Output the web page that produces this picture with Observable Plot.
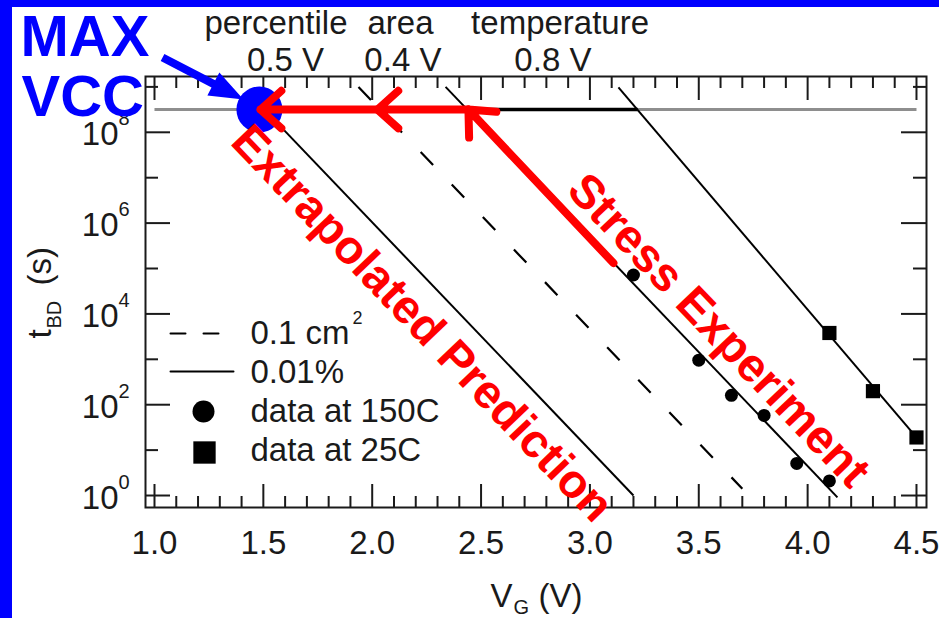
<!DOCTYPE html>
<html><head><meta charset="utf-8">
<script src="https://cdn.jsdelivr.net/npm/d3@7"></script>
<script src="https://cdn.jsdelivr.net/npm/@observablehq/plot@0.6"></script>
<style>
body{margin:0;background:#fff;}
#wrap{position:relative;width:939px;height:618px;overflow:hidden;background:#fff;}
#wrap svg{position:absolute;left:0;top:0;}
.band{position:absolute;background:#0000ff;}
</style></head><body><div id="wrap"></div>
<script>
// ---------------- data ----------------
// breakdown data at 150C (circles) and 25C (squares)
const vg150 = [3.2, 3.5, 3.65, 3.8, 3.95, 4.1];
const tbd150 = [7.2e4, 955, 161, 58, 5.1, 2.1];
const vg25 = [4.1, 4.3, 4.5];
const tbd25 = [3800, 199, 19];
// straight fit / projection lines (log t vs V)
const fitNames = ["extrapolated 0.01%", "0.1 cm2", "fit 150C", "fit 25C"];
const fitV1 = [1.505, 1.937, 2.337, 3.131];
const fitT1 = [10 ** 8.5, 1e9, 1e9, 10 ** 8.99];
const fitV2 = [3.20, 3.70, 4.137, 4.50];
const fitT2 = [1, 10 ** 0.15, 10 ** -0.04, 19];
const fitDashed = [false, true, false, false];
// 10-year lifetime line
const tenYears = 10 ** 8.5;
const lifeLineV = [1.0, 4.5];
const tempShiftV = [2.442, 3.219];
// red arrows (stress -> temperature/area/percentile shifts)
const arrowV1 = [3.108, 2.442, 2.024];
const arrowT1 = [10 ** 5.12, tenYears, tenYears];
const arrowV2 = [2.442, 2.024, 1.487];
const arrowT2 = [tenYears, tenYears, tenYears];
// MAX VCC marker
const maxVccV = 1.482;
const maxArrowV = [1.037, 1.409];
const maxArrowT = [10 ** 9.648, 10 ** 8.72];
// tick labels
const xTickValues = [1.0, 1.5, 2.0, 2.5, 3.0, 3.5, 4.0, 4.5];
const yLabelExps = [0, 2, 4, 6, 8];
const yMinorExps = [1, 3, 5, 7, 9];
// top annotations
const topWords = ["percentile", "area", "temperature"];
const topWordV = [1.558, 2.130, 2.863];
const topShifts = ["0.5 V", "0.4 V", "0.8 V"];
const topShiftV = [1.602, 2.141, 2.830];
// red labels
const redLabels = ["Extrapolated Prediction", "Stress Experiment"];
const redLabelV = [2.229, 3.591];
const redLabelT = [10 ** 3.79, 10 ** 3.634];
const redLabelLine = [0, 2];
// legend
const legendTexts = ["0.1 cm", "0.01%", "data at 150C", "data at 25C"];

// ---------------- layout ----------------
const W = 939, H = 618;
const mL = 145, mR = 13, mT = 76, mB = 111;
const fw = W - mL - mR, fh = H - mT - mB;
const xDomain = [0.9587, 4.546];
const yDomain = [10 ** -0.264, 10 ** 9.229];
const sx = Plot.scale({x: {domain: xDomain, range: [mL, W - mR]}});
const sy = Plot.scale({y: {type: "log", domain: yDomain, range: [H - mB, mT]}});
const pxAngle = (v1, t1, v2, t2) =>
  Math.atan2(sy.apply(t2) - sy.apply(t1), sx.apply(v2) - sx.apply(v1)) * 180 / Math.PI;

const fits = fitNames.map((n, i) => ({n, v1: fitV1[i], t1: fitT1[i], v2: fitV2[i], t2: fitT2[i], dashed: fitDashed[i]}));
const pts150 = vg150.map((v, i) => ({v, t: tbd150[i]}));
const pts25 = vg25.map((v, i) => ({v, t: tbd25[i]}));
const arrows = arrowV1.map((v, i) => ({v1: v, t1: arrowT1[i], v2: arrowV2[i], t2: arrowT2[i]}));
const redRows = redLabels.map((s, i) => {
  const f = fits[redLabelLine[i]];
  return {s, v: redLabelV[i], t: redLabelT[i], a: pxAngle(f.v1, f.t1, f.v2, f.t2)};
});

const xMajor = xTickValues;
const xMinor = d3.range(10, 46).filter(i => i % 5 !== 0).map(i => i / 10);
const yMajor = yLabelExps.map(e => 10 ** e);
const yMinor = yMinorExps.map(e => 10 ** e);

const lineShape = {draw(ctx, l) { ctx.moveTo(0, 0); ctx.lineTo(0, -l); }};
const blueArrowShape = {draw(ctx, l) {
  const hl = 34, hw = 13, sw = 4;
  ctx.moveTo(-sw, 0); ctx.lineTo(-sw, -(l - hl)); ctx.lineTo(-hw, -(l - hl));
  ctx.lineTo(0, -l); ctx.lineTo(hw, -(l - hl)); ctx.lineTo(sw, -(l - hl)); ctx.lineTo(sw, 0); ctx.closePath();
}};
const bx1 = sx.apply(maxArrowV[0]), by1 = sy.apply(maxArrowT[0]);
const bx2 = sx.apply(maxArrowV[1]), by2 = sy.apply(maxArrowT[1]);
const bLen = Math.hypot(bx2 - bx1, by2 - by1);
const bRot = Math.atan2(bx2 - bx1, -(by2 - by1)) * 180 / Math.PI;

const ink = "#1a1a1a";
const TL = {frameAnchor: "top-left"};
const at = (px, py) => ({dx: px - mL, dy: py - mT});

const marks = [
  // ticks (inward, mirrored)
  Plot.tickX(xMajor, {x: d => d, insetTop: fh - 23, stroke: ink, strokeWidth: 2}),
  Plot.tickX(xMinor, {x: d => d, insetTop: fh - 11, stroke: ink, strokeWidth: 2}),
  Plot.tickX(xMajor, {x: d => d, insetBottom: fh - 24, stroke: ink, strokeWidth: 2}),
  Plot.tickX(xMinor, {x: d => d, insetBottom: fh - 12, stroke: ink, strokeWidth: 2}),
  Plot.tickY(yMajor, {y: d => d, insetRight: fw - 25, stroke: ink, strokeWidth: 2}),
  Plot.tickY(yMinor, {y: d => d, insetRight: fw - 13, stroke: ink, strokeWidth: 2}),
  Plot.tickY(yMajor, {y: d => d, insetLeft: fw - 25, stroke: ink, strokeWidth: 2}),
  Plot.tickY(yMinor, {y: d => d, insetLeft: fw - 13, stroke: ink, strokeWidth: 2}),
  Plot.frame({stroke: ink, strokeWidth: 2}),
  // 10-year line
  Plot.link([0], {x1: lifeLineV[0], x2: lifeLineV[1], y1: tenYears, y2: tenYears, stroke: "#8e8e8e", strokeWidth: 3}),
  Plot.link([0], {x1: tempShiftV[0], x2: tempShiftV[1], y1: tenYears, y2: tenYears, stroke: "#000", strokeWidth: 3.5}),
  // fit lines
  Plot.link(fits.filter(d => !d.dashed), {x1: "v1", y1: "t1", x2: "v2", y2: "t2", stroke: "#000", strokeWidth: 2}),
  Plot.link(fits.filter(d => d.dashed), {x1: "v1", y1: "t1", x2: "v2", y2: "t2", stroke: "#000", strokeWidth: 2.2, strokeDasharray: "18,27"}),
  // data
  Plot.dot(pts150, {x: "v", y: "t", r: 6.5, fill: "#000", stroke: "none"}),
  Plot.dot(pts25, {x: "v", y: "t", r: 8, symbol: "square", fill: "#000", stroke: "none"}),
  // x tick labels
  Plot.text(xTickValues, {x: d => d, frameAnchor: "bottom", text: d => d.toFixed(1), lineAnchor: "bottom", dy: 46, fill: ink}),
  // y tick labels 10^n
  Plot.text(yLabelExps, {y: d => 10 ** d, frameAnchor: "left", text: () => "10", textAnchor: "end", lineAnchor: "bottom", dx: -27, dy: 13, fill: ink}),
  Plot.text(yLabelExps, {y: d => 10 ** d, frameAnchor: "left", text: d => String(d), textAnchor: "start", lineAnchor: "bottom", dx: -27, dy: -7, fontSize: 20, fill: ink}),
  // axis titles
  Plot.text(["V"], {...TL, ...at(490, 606), textAnchor: "start", lineAnchor: "bottom", fill: ink}),
  Plot.text(["G"], {...TL, ...at(513, 613), textAnchor: "start", lineAnchor: "bottom", fontSize: 20, fill: ink}),
  Plot.text(["(V)"], {...TL, ...at(538, 606), textAnchor: "start", lineAnchor: "bottom", fill: ink}),
  Plot.text(["t"], {...TL, ...at(50, 338), rotate: -90, textAnchor: "start", lineAnchor: "bottom", fill: ink}),
  Plot.text(["BD"], {...TL, ...at(60, 328), rotate: -90, textAnchor: "start", lineAnchor: "bottom", fontSize: 20, fill: ink}),
  Plot.text(["(s)"], {...TL, ...at(50, 285), rotate: -90, textAnchor: "start", lineAnchor: "bottom", fill: ink}),
  // top annotations
  Plot.text(topWords, {x: (d, i) => topWordV[i], frameAnchor: "top", text: d => d, lineAnchor: "bottom", dy: 33 - mT, fill: ink}),
  Plot.text(topShifts, {x: (d, i) => topShiftV[i], frameAnchor: "top", text: d => d, lineAnchor: "bottom", dy: 70 - mT, fill: ink}),
  // legend
  Plot.vector([0], {...TL, ...at(170, 333), length: 48, rotate: 90, anchor: "start", shape: lineShape, stroke: "#000", strokeWidth: 2, strokeDasharray: "15,18"}),
  Plot.vector([0], {...TL, ...at(170, 371), length: 63, rotate: 90, anchor: "start", shape: lineShape, stroke: "#000", strokeWidth: 2}),
  Plot.dot([0], {...TL, ...at(203, 411), r: 11, fill: "#000", stroke: "none"}),
  Plot.dot([0], {...TL, ...at(204, 452), r: 12.6, symbol: "square", fill: "#000", stroke: "none"}),
  Plot.text([legendTexts[0]], {...TL, ...at(250, 343), textAnchor: "start", lineAnchor: "bottom", fill: ink}),
  Plot.text(["2"], {...TL, ...at(352, 323), textAnchor: "start", lineAnchor: "bottom", fontSize: 18, fill: ink}),
  Plot.text([legendTexts[1]], {...TL, ...at(250, 382), textAnchor: "start", lineAnchor: "bottom", fill: ink}),
  Plot.text([legendTexts[2]], {...TL, ...at(250, 421), textAnchor: "start", lineAnchor: "bottom", fill: ink}),
  Plot.text([legendTexts[3]], {...TL, ...at(250, 460), textAnchor: "start", lineAnchor: "bottom", fill: ink}),
  // MAX VCC
  Plot.dot([0], {x: maxVccV, y: tenYears, r: 23, fill: "#0000ff", stroke: "none"}),
  Plot.vector([0], {x: maxArrowV[0], y: maxArrowT[0], length: bLen, rotate: bRot, anchor: "start", shape: blueArrowShape, fill: "#0000ff", stroke: "none"}),
  Plot.text(["MAX"], {...TL, ...at(20, 55), textAnchor: "start", lineAnchor: "bottom", fontSize: 58, fontWeight: "bold", fill: "#0000ff"}),
  Plot.text(["VCC"], {...TL, ...at(21, 115), textAnchor: "start", lineAnchor: "bottom", fontSize: 58, fontWeight: "bold", fill: "#0000ff"}),
  // red arrows and labels
  Plot.arrow(arrows, {x1: "v1", y1: "t1", x2: "v2", y2: "t2", stroke: "#ff0000", strokeWidth: 8, headLength: 5.25, headAngle: 84, strokeLinecap: "round", strokeLinejoin: "round"}),
  Plot.text(redRows, {x: "v", y: "t", text: "s", rotate: "a", textAnchor: "middle", lineAnchor: "middle", fontSize: 47, fontWeight: "bold", fill: "#ff0000"})
];

const chart = Plot.plot({
  width: W, height: H,
  marginLeft: mL, marginRight: mR, marginTop: mT, marginBottom: mB,
  x: {domain: xDomain, axis: null},
  y: {type: "log", domain: yDomain, axis: null},
  style: {fontFamily: "'Liberation Sans', Arial, Helvetica, sans-serif", fontSize: "33px", background: "transparent", color: ink, overflow: "visible"},
  marks
});
const wrap = document.getElementById("wrap");
wrap.appendChild(chart);
const bL = document.createElement("div"); bL.className = "band";
bL.style.cssText = "left:0;top:0;width:12px;height:618px;";
const bT = document.createElement("div"); bT.className = "band";
bT.style.cssText = "left:0;top:0;width:939px;height:7px;";
wrap.appendChild(bL); wrap.appendChild(bT);
</script></body></html>
